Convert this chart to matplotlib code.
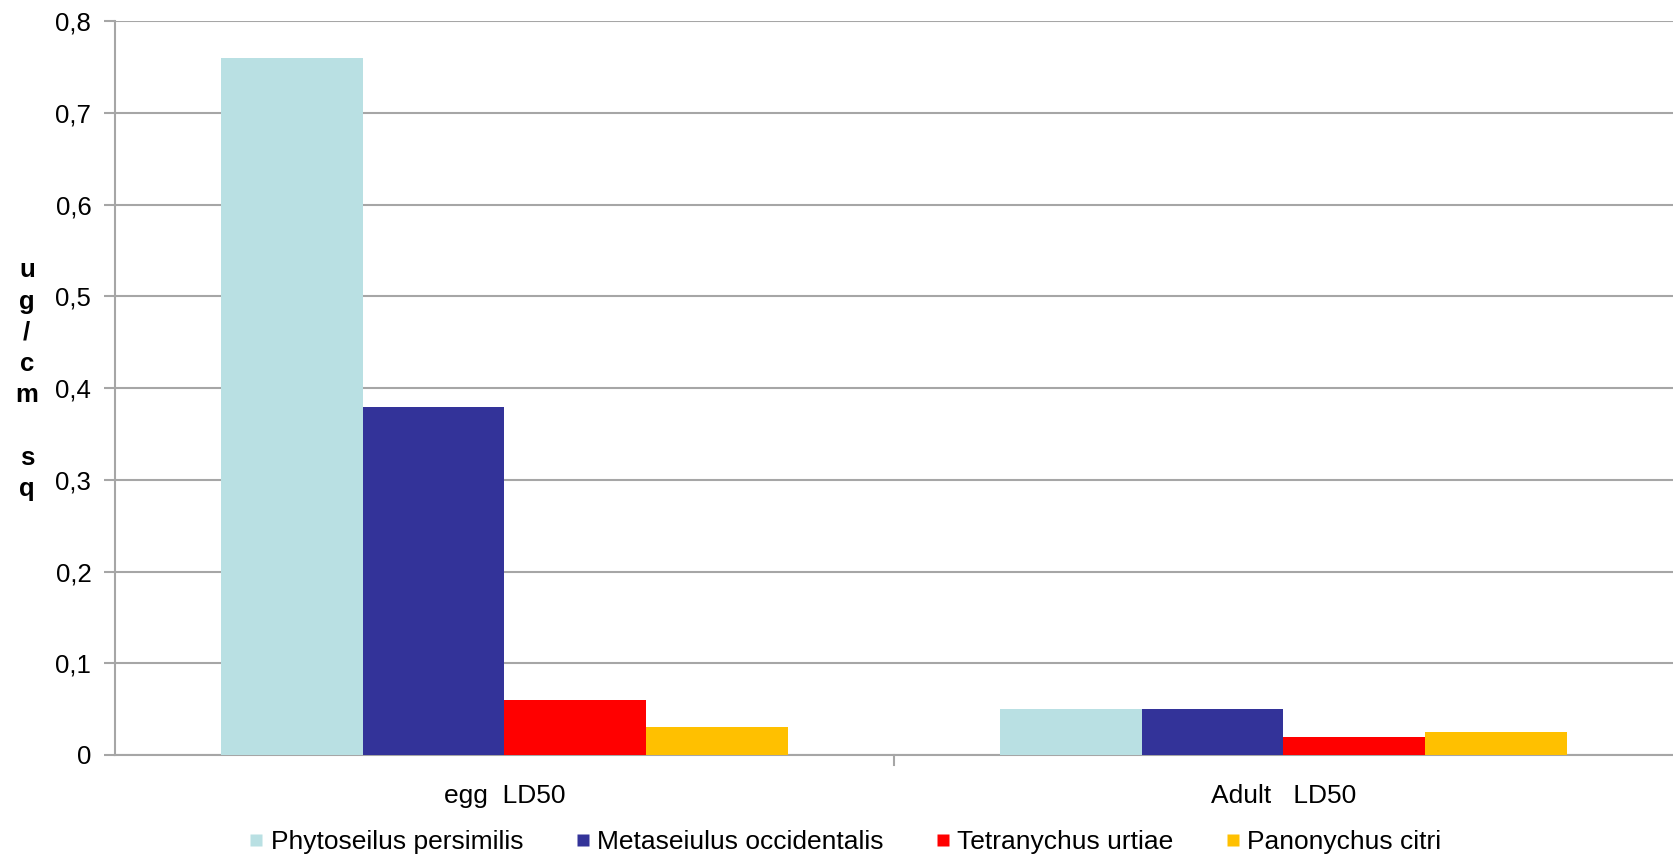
import matplotlib
matplotlib.use("Agg")
import matplotlib.pyplot as plt
import numpy as np
from matplotlib.lines import Line2D

categories = ["egg  LD50", "Adult   LD50"]
series = ["Phytoseilus persimilis", "Metaseiulus occidentalis", "Tetranychus urtiae", "Panonychus citri"]
phytoseilus = [0.76, 0.05]
metaseiulus = [0.38, 0.05]
tetranychus = [0.06, 0.02]
panonychus = [0.03, 0.025]
values = [phytoseilus, metaseiulus, tetranychus, panonychus]
colors = ["#B9E0E3", "#333399", "#FF0000", "#FFC000"]
yticks = [0, 0.1, 0.2, 0.3, 0.4, 0.5, 0.6, 0.7, 0.8]
ytick_labels = ["0", "0,1", "0,2", "0,3", "0,4", "0,5", "0,6", "0,7", "0,8"]

plt.rcParams['font.family'] = ['Liberation Sans', 'DejaVu Sans']
FS_TICK = 18.5
FS = 19

fig = plt.figure(figsize=(16.73, 8.55), dpi=100)
ax = fig.add_axes([0.0687, 0.117, 0.9313, 0.858])

x = np.arange(len(categories))
bw = 0.182
for i, (vals, c) in enumerate(zip(values, colors)):
    ax.bar(x + (i - 1.5) * bw, vals, width=bw, color=c, edgecolor='none', zorder=3)

ax.set_xlim(-0.5, 1.5)
ax.set_ylim(0, 0.8)
ax.set_yticks(yticks)
ax.set_yticklabels(ytick_labels, fontsize=FS_TICK)
ax.yaxis.grid(True, color='#A6A6A6', linewidth=1.5, zorder=0)
ax.set_axisbelow(True)
ax.tick_params(axis='y', length=8, width=1.5, color='#A6A6A6', pad=9)

ax.set_xticks(x)
ax.set_xticklabels(categories, fontsize=FS)
ax.tick_params(axis='x', length=0, pad=21)
for xb in [0.5]:
    ax.plot([xb, xb], [0, -0.011], color='#A6A6A6', lw=1.5, clip_on=False)

for s in ['top', 'right']:
    ax.spines[s].set_visible(False)
for s in ['left', 'bottom']:
    ax.spines[s].set_color('#A6A6A6')
    ax.spines[s].set_linewidth(1.5)

fig.text(0.0160, 0.556, "u\ng\n/\nc\nm\n\ns\nq", fontsize=FS_TICK, fontweight='bold',
         ha='center', va='center', linespacing=1.38)

handles = [Line2D([0], [0], marker='s', color='none', markerfacecolor=c, markeredgecolor='none',
                  markersize=9) for c in colors]
fig.legend(handles, series, loc='center', bbox_to_anchor=(0.505, 0.015), ncol=4, frameon=False,
           fontsize=FS, handletextpad=0.25, columnspacing=1.94, handlelength=0.6)

fig.savefig("out.png", dpi=100)
